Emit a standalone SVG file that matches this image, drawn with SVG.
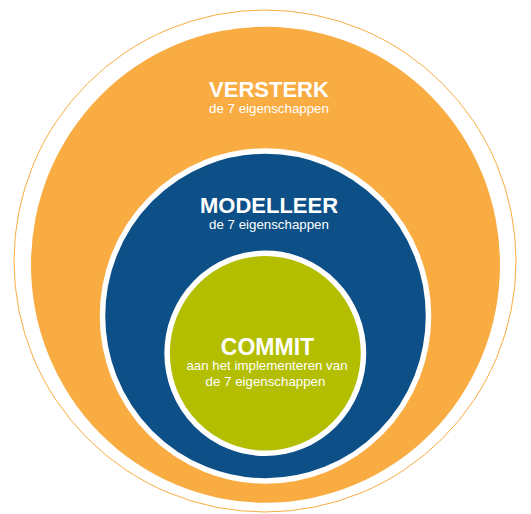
<svg xmlns="http://www.w3.org/2000/svg" width="531" height="514" viewBox="0 0 531 514">
<style>
.t{font-family:"Liberation Sans",Arial,sans-serif;fill:#fff;text-anchor:middle}
.h{font-weight:bold;font-size:22px}
.s{font-size:13.3px}
</style>
<rect width="531" height="514" fill="#fff"/>
<g id="versterk">
<circle cx="265" cy="261" r="251" fill="none" stroke="#F9AC42" stroke-width="1"/>
<ellipse cx="265.5" cy="264.7" rx="234.5" ry="238" fill="#F9AC42"/>
<text class="t h" x="269" y="96.5">VERSTERK</text>
<text class="t s" x="269" y="113">de 7 eigenschappen</text>
</g>
<g id="modelleer">
<ellipse cx="265.5" cy="316" rx="163" ry="165" fill="#0D4F87" stroke="#fff" stroke-width="5.5"/>
<text class="t h" x="269" y="213">MODELLEER</text>
<text class="t s" x="269" y="228.5">de 7 eigenschappen</text>
</g>
<g id="commit">
<ellipse cx="265.3" cy="353.3" rx="98.2" ry="100" fill="#B3BE00" stroke="#fff" stroke-width="5.5"/>
<text class="t h" x="267.5" y="354.5" style="font-size:23px">COMMIT</text>
<text class="t s" x="267" y="369.8">aan het implementeren van</text>
<text class="t s" x="265.5" y="385.5">de 7 eigenschappen</text>
</g>
<g id="connectors"></g>
</svg>
